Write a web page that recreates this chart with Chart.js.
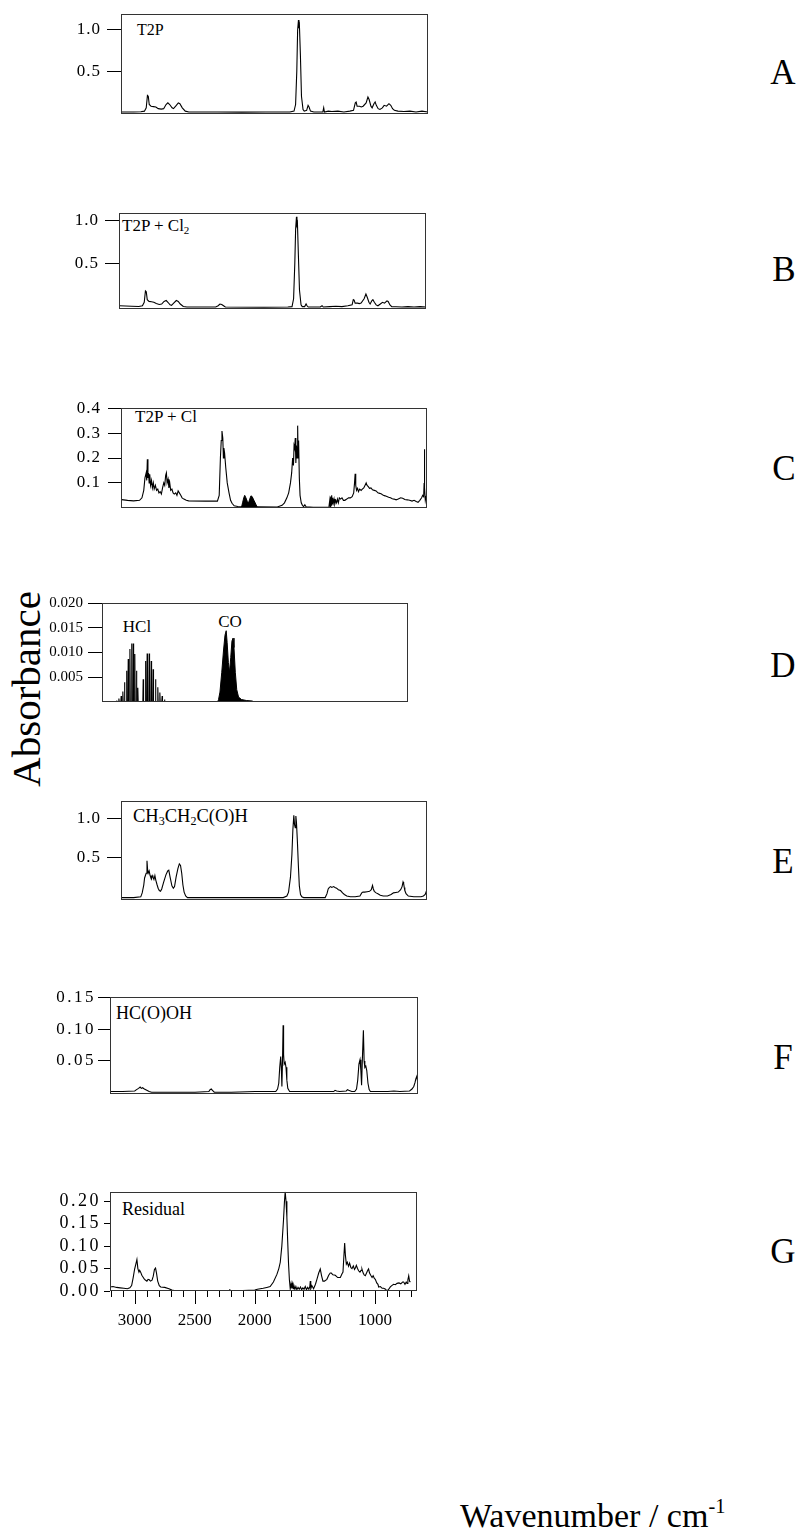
<!DOCTYPE html>
<html>
<head>
<meta charset="utf-8">
<script src="https://cdn.jsdelivr.net/npm/chart.js@4.4.1/dist/chart.umd.min.js"></script>
<style>
  body { margin: 0; background: #fff; width: 802px; height: 1539px; position: relative; overflow: hidden;
         font-family: "Liberation Serif", "Times New Roman", serif; color: #000; }
  canvas { position: absolute; }
  .t { position: absolute; line-height: 1; white-space: nowrap; }
  .t sub { font-size: 0.65em; vertical-align: -0.25em; line-height: 0; }
  .t sup { font-size: 0.6em; vertical-align: 0.7em; line-height: 0; }
  .lt { position: absolute; font-size: 35px; line-height: 1; transform: translate(-50%, -50%); }
</style>
</head>
<body>

<div class="t" style="left:137px;top:22px;font-size:16px">T2P</div>
<div class="t" style="left:122px;top:217px;font-size:17px">T2P + Cl<sub>2</sub></div>
<div class="t" style="left:135px;top:408px;font-size:17px">T2P + Cl</div>
<div class="t" style="left:137px;top:618px;font-size:17px;transform:translateX(-50%)">HCl</div>
<div class="t" style="left:230px;top:613px;font-size:17px;transform:translateX(-50%)">CO</div>
<div class="t" style="left:133px;top:807px;font-size:18.5px">CH<sub>3</sub>CH<sub>2</sub>C(O)H</div>
<div class="t" style="left:116px;top:1004px;font-size:18px">HC(O)OH</div>
<div class="t" style="left:122px;top:1200px;font-size:18px">Residual</div>

<div class="lt" style="left:783px;top:72px">A</div>
<div class="lt" style="left:784px;top:269px">B</div>
<div class="lt" style="left:784px;top:468px">C</div>
<div class="lt" style="left:783px;top:665px">D</div>
<div class="lt" style="left:783px;top:861px">E</div>
<div class="lt" style="left:783px;top:1057px">F</div>
<div class="lt" style="left:783px;top:1251px">G</div>

<div class="t" style="left:26px;top:689px;font-size:41px;transform:translate(-50%,-50%) rotate(-90deg)">Absorbance</div>
<div class="t" style="left:460px;top:1499px;font-size:34px">Wavenumber / cm<sup>-1</sup></div>

<script>
// spectra: [wavenumber cm-1, absorbance]
const specT2P = [[3200,0.01],[3100,0.01],[3040,0.012],[3010,0.02],[2995,0.06],[2985,0.21],[2978,0.2],[2970,0.1],[2955,0.08],[2935,0.075],[2915,0.07],[2895,0.05],[2870,0.045],[2850,0.05],[2830,0.1],[2815,0.12],[2800,0.1],[2780,0.06],[2768,0.05],[2750,0.08],[2728,0.12],[2715,0.11],[2695,0.06],[2670,0.02],[2640,0.01],[2400,0.01],[2200,0.008],[2000,0.01],[1800,0.01],[1765,0.02],[1752,0.1],[1742,0.5],[1735,1.0],[1728,1.12],[1724,1.02],[1720,1.05],[1712,0.7],[1703,0.2],[1690,0.04],[1680,0.02],[1660,0.03],[1648,0.09],[1640,0.07],[1628,0.02],[1600,0.01],[1525,0.01],[1518,0.06],[1512,0.01],[1480,0.02],[1450,0.015],[1400,0.02],[1350,0.01],[1300,0.02],[1270,0.03],[1255,0.12],[1248,0.13],[1240,0.08],[1220,0.08],[1205,0.07],[1190,0.08],[1165,0.12],[1150,0.19],[1140,0.16],[1125,0.08],[1115,0.06],[1100,0.11],[1090,0.13],[1080,0.09],[1065,0.05],[1050,0.04],[1030,0.06],[1015,0.09],[995,0.08],[975,0.11],[960,0.09],[945,0.05],[930,0.03],[900,0.02],[850,0.015],[800,0.02],[750,0.01],[700,0.02],[650,0.01]];

const specT2PCl2 = [[3200,0.02],[3100,0.015],[3040,0.012],[3010,0.02],[2995,0.06],[2985,0.19],[2978,0.18],[2970,0.09],[2955,0.07],[2935,0.065],[2915,0.06],[2895,0.045],[2870,0.035],[2850,0.04],[2830,0.07],[2812,0.08],[2798,0.06],[2780,0.03],[2768,0.025],[2750,0.05],[2728,0.08],[2712,0.07],[2695,0.04],[2670,0.012],[2640,0.005],[2400,0.005],[2380,0.02],[2365,0.04],[2350,0.035],[2335,0.02],[2320,0.005],[2000,0.003],[1800,0.005],[1765,0.01],[1752,0.1],[1742,0.5],[1735,0.9],[1728,1.04],[1724,0.95],[1720,0.97],[1712,0.6],[1703,0.2],[1690,0.03],[1680,0.01],[1660,0.01],[1648,0.04],[1640,0.02],[1630,0.005],[1530,0.005],[1515,0.02],[1505,0.005],[1450,0.01],[1400,0.015],[1350,0.01],[1300,0.02],[1265,0.03],[1255,0.09],[1248,0.085],[1240,0.05],[1220,0.05],[1205,0.045],[1190,0.05],[1165,0.1],[1150,0.155],[1140,0.12],[1125,0.06],[1115,0.04],[1100,0.08],[1092,0.09],[1080,0.06],[1065,0.03],[1050,0.02],[1030,0.04],[1012,0.06],[995,0.05],[975,0.075],[965,0.07],[950,0.03],[935,0.01],[900,0.008],[850,0.005],[800,0.01],[750,0.005],[700,0.01],[650,0.005]];

const specT2PCl = [[3200,0.033],[3150,0.03],[3100,0.028],[3050,0.03],[3030,0.04],[3015,0.07],[3005,0.12],[2995,0.14],[2990,0.11],[2985,0.195],[2980,0.12],[2975,0.14],[2970,0.1],[2965,0.135],[2958,0.09],[2950,0.11],[2943,0.08],[2935,0.1],[2928,0.075],[2918,0.09],[2908,0.07],[2898,0.075],[2888,0.06],[2878,0.065],[2868,0.055],[2858,0.08],[2848,0.1],[2840,0.09],[2832,0.13],[2826,0.14],[2820,0.1],[2812,0.115],[2805,0.08],[2798,0.1],[2790,0.07],[2780,0.075],[2770,0.06],[2760,0.055],[2748,0.06],[2738,0.05],[2728,0.068],[2718,0.06],[2706,0.05],[2695,0.04],[2680,0.035],[2660,0.03],[2640,0.028],[2500,0.027],[2400,0.027],[2385,0.05],[2375,0.2],[2368,0.27],[2362,0.308],[2355,0.28],[2350,0.2],[2346,0.24],[2340,0.22],[2330,0.16],[2318,0.1],[2303,0.06],[2290,0.03],[2278,0.018],[2260,0.008],[2230,0.005],[2205,0.004],[2070,0.004],[1900,0.003],[1860,0.01],[1840,0.02],[1820,0.04],[1805,0.06],[1790,0.1],[1780,0.14],[1772,0.2],[1765,0.17],[1760,0.25],[1755,0.24],[1750,0.28],[1745,0.18],[1740,0.25],[1735,0.2],[1730,0.33],[1726,0.2],[1722,0.27],[1716,0.12],[1710,0.05],[1700,0.02],[1690,0.01],[1680,0.005],[1670,0.012],[1660,0.004],[1600,0.002],[1480,0.002],[1470,0.0],[1462,0.03],[1458,0.005],[1454,0.045],[1450,0.01],[1446,0.05],[1442,0.015],[1438,0.04],[1432,0.02],[1426,0.035],[1420,0.015],[1412,0.03],[1405,0.02],[1398,0.035],[1390,0.02],[1382,0.04],[1372,0.035],[1360,0.04],[1348,0.03],[1336,0.03],[1320,0.035],[1305,0.04],[1290,0.04],[1275,0.045],[1262,0.06],[1255,0.1],[1250,0.137],[1245,0.09],[1238,0.07],[1230,0.078],[1222,0.065],[1212,0.075],[1200,0.07],[1190,0.075],[1178,0.08],[1168,0.09],[1158,0.1],[1150,0.09],[1140,0.085],[1130,0.078],[1118,0.08],[1105,0.072],[1090,0.07],[1075,0.068],[1060,0.06],[1045,0.058],[1030,0.055],[1015,0.05],[1000,0.048],[985,0.045],[970,0.042],[955,0.04],[940,0.036],[925,0.035],[908,0.032],[890,0.035],[870,0.04],[853,0.038],[835,0.033],[815,0.032],[795,0.03],[775,0.027],[758,0.03],[740,0.025],[725,0.022],[710,0.03],[695,0.04],[686,0.05],[678,0.045],[674,0.1],[672,0.235],[669,0.08],[664,0.03],[658,0.045],[650,0.05]];
const coBandC = [[2200,0],[2190,0.02],[2180,0.04],[2172,0.05],[2162,0.04],[2150,0.025],[2140,0.02],[2130,0.035],[2120,0.048],[2110,0.045],[2095,0.03],[2080,0.015],[2065,0]];

// HCl rotational lines (centre, height) and CO band envelope
const hclWave = [3083,3064,3045,3031,3017,3000,2986,2972,2958,2944,2931,2917,2906,2861,2842,2828,2811,2794,2778,2758,2739,2722,2703,2683];
const hclAbs  = [0.0003,0.0007,0.0012,0.0021,0.004,0.0063,0.0087,0.0107,0.0118,0.0118,0.0097,0.0063,0.0029,0.0046,0.0083,0.0098,0.0098,0.0083,0.0066,0.0046,0.003,0.0019,0.0012,0.0005];
const coBandD = [[2240,0],[2232,0.0005],[2220,0.002],[2205,0.006],[2190,0.0105],[2178,0.0135],[2168,0.0144],[2160,0.012],[2150,0.008],[2140,0.006],[2130,0.009],[2120,0.0123],[2111,0.0129],[2103,0.011],[2092,0.006],[2080,0.0025],[2065,0.001],[2040,0.0005],[2000,0.0003],[1950,0.0002],[1940,0]];

const specPropanal = [[3200,-0.01],[3100,-0.01],[3040,0.0],[3028,0.05],[3015,0.15],[3008,0.24],[2995,0.3],[2988,0.46],[2983,0.35],[2978,0.3],[2970,0.33],[2962,0.27],[2955,0.24],[2950,0.23],[2944,0.27],[2938,0.25],[2930,0.22],[2922,0.27],[2914,0.21],[2905,0.16],[2895,0.11],[2885,0.08],[2875,0.07],[2865,0.1],[2850,0.18],[2830,0.28],[2815,0.33],[2806,0.34],[2795,0.25],[2780,0.14],[2768,0.11],[2758,0.13],[2745,0.25],[2730,0.36],[2718,0.42],[2708,0.4],[2698,0.3],[2688,0.15],[2678,0.06],[2665,0.01],[2650,-0.01],[2400,-0.01],[2100,-0.01],[1850,-0.01],[1820,0.01],[1806,0.06],[1790,0.25],[1778,0.54],[1770,0.85],[1762,1.04],[1756,0.92],[1750,0.88],[1745,1.03],[1740,0.95],[1732,0.7],[1724,0.4],[1716,0.14],[1706,0.03],[1695,0.0],[1680,-0.01],[1500,-0.01],[1485,0.04],[1475,0.1],[1465,0.12],[1455,0.13],[1445,0.12],[1430,0.13],[1418,0.12],[1405,0.11],[1390,0.09],[1372,0.08],[1355,0.05],[1340,0.03],[1320,0.01],[1290,0.0],[1250,0.0],[1210,0.01],[1195,0.05],[1185,0.06],[1170,0.06],[1150,0.065],[1130,0.07],[1115,0.09],[1105,0.145],[1098,0.1],[1090,0.07],[1075,0.05],[1060,0.04],[1040,0.02],[1015,0.01],[980,0.01],[950,0.03],[930,0.05],[910,0.055],[890,0.06],[870,0.09],[858,0.13],[850,0.19],[845,0.17],[840,0.12],[835,0.08],[825,0.04],[806,0.01],[760,0.0],[700,0.0],[680,0.01],[665,0.03],[658,0.06],[650,0.04]];

const specFormic = [[3200,0.002],[3100,0.002],[3000,0.003],[2985,0.005],[2968,0.007],[2955,0.009],[2945,0.007],[2935,0.008],[2920,0.006],[2900,0.004],[2880,0.002],[2860,0.001],[2700,0.001],[2500,0.001],[2385,0.002],[2375,0.005],[2365,0.006],[2355,0.004],[2340,0.001],[2200,0.001],[2000,0.002],[1830,0.002],[1815,0.006],[1805,0.015],[1797,0.04],[1789,0.057],[1784,0.04],[1779,0.01],[1774,0.05],[1769,0.106],[1765,0.06],[1760,0.045],[1752,0.048],[1745,0.04],[1738,0.02],[1730,0.007],[1715,0.002],[1500,0.002],[1350,0.002],[1338,0.004],[1325,0.003],[1300,0.002],[1245,0.003],[1235,0.005],[1225,0.004],[1200,0.002],[1175,0.002],[1160,0.006],[1150,0.02],[1140,0.045],[1131,0.052],[1124,0.035],[1118,0.012],[1112,0.05],[1103,0.098],[1097,0.05],[1091,0.04],[1083,0.042],[1075,0.035],[1065,0.015],[1055,0.005],[1045,0.002],[900,0.002],[850,0.003],[800,0.002],[720,0.003],[700,0.006],[685,0.01],[675,0.016],[668,0.022],[660,0.026],[655,0.02],[650,0.024]];

const specResidual = [[3205,0.009],[3180,0.01],[3150,0.008],[3120,0.007],[3090,0.006],[3060,0.005],[3040,0.007],[3025,0.012],[3012,0.03],[3000,0.049],[2990,0.06],[2981,0.07],[2973,0.05],[2964,0.042],[2958,0.046],[2950,0.042],[2940,0.035],[2928,0.03],[2918,0.026],[2908,0.024],[2898,0.022],[2888,0.026],[2878,0.025],[2868,0.022],[2855,0.024],[2845,0.033],[2835,0.048],[2826,0.051],[2818,0.04],[2808,0.022],[2795,0.012],[2783,0.009],[2750,0.008],[2714,0.005],[2690,0.002],[2672,0.001],[2500,0.0],[2350,0.001],[2250,0.0],[2215,0.001],[2208,0.003],[2200,0.001],[2100,0.001],[2000,0.002],[1978,0.004],[1930,0.006],[1900,0.008],[1872,0.01],[1845,0.02],[1816,0.037],[1800,0.05],[1788,0.064],[1775,0.1],[1761,0.158],[1753,0.2],[1747,0.221],[1740,0.2],[1733,0.165],[1726,0.11],[1719,0.06],[1712,0.025],[1705,0.005],[1698,0.017],[1692,0.006],[1686,0.016],[1680,0.005],[1674,0.012],[1666,0.004],[1658,0.01],[1650,0.003],[1640,0.008],[1630,0.004],[1620,0.009],[1610,0.003],[1600,0.007],[1590,0.004],[1580,0.01],[1570,0.003],[1560,0.008],[1550,0.004],[1542,0.01],[1538,0.022],[1534,0.005],[1525,0.012],[1511,0.005],[1495,0.015],[1483,0.026],[1468,0.04],[1455,0.049],[1445,0.035],[1433,0.022],[1420,0.022],[1400,0.026],[1385,0.035],[1372,0.04],[1363,0.04],[1350,0.036],[1330,0.035],[1310,0.03],[1288,0.03],[1275,0.038],[1266,0.042],[1258,0.08],[1252,0.107],[1246,0.08],[1238,0.06],[1230,0.064],[1220,0.055],[1211,0.062],[1200,0.052],[1191,0.05],[1180,0.056],[1170,0.048],[1162,0.052],[1155,0.057],[1145,0.05],[1136,0.045],[1125,0.042],[1115,0.046],[1108,0.049],[1098,0.04],[1090,0.036],[1080,0.034],[1070,0.04],[1060,0.046],[1053,0.049],[1045,0.04],[1035,0.035],[1024,0.03],[1015,0.034],[1005,0.028],[997,0.026],[985,0.018],[975,0.015],[969,0.009],[955,0.01],[940,0.006],[927,0.006],[912,0.004],[899,0.0],[885,0.004],[872,0.009],[860,0.012],[845,0.015],[830,0.014],[816,0.017],[800,0.018],[785,0.016],[770,0.02],[761,0.02],[750,0.015],[740,0.02],[733,0.017],[726,0.025],[719,0.034],[712,0.022],[705,0.02]];

// tick labels
const yTicksA = [0.5, 1.0];
const yTicksB = [0.5, 1.0];
const yTicksC = [0.1, 0.2, 0.3, 0.4];
const yTicksD = [0.005, 0.010, 0.015, 0.020];
const yTicksE = [0.5, 1.0];
const yTicksF = [0.05, 0.10, 0.15];
const yTicksG = [0.00, 0.05, 0.10, 0.15, 0.20];
const xTicksG = [3000, 2500, 2000, 1500, 1000];

const pts = arr => arr.map(p => ({ x: p[0], y: p[1] }));

const hclSticks = [];
hclWave.forEach((w, i) => {
  hclSticks.push({ x: w + 3, y: 0 }, { x: w, y: hclAbs[i] }, { x: w - 3, y: 0 });
});

const line = d => ({ data: d, borderColor: '#000', borderWidth: 1.1, pointRadius: 0, tension: 0, fill: false });
const band = d => ({ data: d, borderColor: '#000', borderWidth: 1, pointRadius: 0, tension: 0, fill: 'origin', backgroundColor: '#000' });

// wider glyph spacing for the y tick numbers, like the original figure;
// the wavenumber labels (drawn after the datasets) get normal spacing
const spacingPlugin = {
  id: 'spacing',
  beforeDraw(chart, args, opts) { chart.ctx.letterSpacing = (opts.px || 0) + 'px'; },
  afterDatasetsDraw(chart) { chart.ctx.letterSpacing = '0px'; }
};

const boxPlugin = {
  id: 'box',
  afterDraw(chart) {
    const a = chart.chartArea, ctx = chart.ctx;
    ctx.save();
    ctx.strokeStyle = '#333';
    ctx.lineWidth = 1;
    ctx.strokeRect(Math.round(a.left) + 0.5, Math.round(a.top) + 0.5,
                   Math.round(a.right - a.left) - 1, Math.round(a.bottom - a.top) - 1);
    // wavenumber tick marks (bottom panel only)
    if (chart.options.scales.x.display) {
      const xs = chart.scales.x;
      ctx.strokeStyle = '#000';
      for (let w = 700; w <= 3200; w += 100) {
        const px = Math.round(xs.getPixelForValue(w)) + 0.5;
        const len = w % 500 === 0 ? 13 : 6;
        ctx.beginPath();
        ctx.moveTo(px, a.bottom);
        ctx.lineTo(px, a.bottom + len);
        ctx.stroke();
      }
    }
    ctx.restore();
  }
};

function panel(box, yr, yTicks, dec, tick, sets, withX) {
  const padL = 80, padT = 12, padR = 8, padB = withX ? 40 : 2;
  const w = box[2] - box[0], h = box[3] - box[1];
  const cw = w + padL + padR, ch = h + padT + padB;
  const cv = document.createElement('canvas');
  cv.width = cw;
  cv.height = ch;
  cv.style.width = cw + 'px';
  cv.style.height = ch + 'px';
  cv.style.left = (box[0] - padL) + 'px';
  cv.style.top = (box[1] - padT) + 'px';
  document.body.appendChild(cv);
  const chart = new Chart(cv, {
    type: 'line',
    data: { datasets: sets },
    options: {
      responsive: false,
      maintainAspectRatio: false,
      animation: false,
      layout: { padding: { top: padT, right: padR, bottom: withX ? 0 : padB, left: 0 } },
      plugins: { legend: { display: false }, tooltip: { enabled: false }, spacing: { px: tick.sp } },
      scales: {
        x: {
          type: 'linear', reverse: true, min: 650, max: 3205, display: withX,
          afterFit: s => { if (withX) s.height = 40; },
          afterBuildTicks: s => { s.ticks = xTicksG.map(v => ({ value: v })); },
          ticks: { color: '#000', font: { family: 'Liberation Serif', size: 17 }, padding: 6, maxRotation: 0, autoSkip: false,
                   z: 1, callback: v => String(v) },
          grid: { display: false, drawTicks: true, tickLength: 13 },
          border: { display: false }
        },
        y: {
          min: yr[0], max: yr[1],
          afterFit: s => { s.width = padL; },
          afterBuildTicks: s => { s.ticks = yTicks.map(v => ({ value: v })); },
          ticks: { color: '#000', font: { family: 'Liberation Serif', size: tick.size }, padding: tick.pad, autoSkip: false,
                   callback: v => v.toFixed(dec) },
          grid: { drawOnChartArea: false, drawTicks: true, tickLength: tick.len, color: '#000', tickColor: '#000' },
          border: { display: false }
        }
      }
    },
    plugins: [spacingPlugin, boxPlugin]
  });
  // keep the plot frame exactly on the wanted box
  const a = chart.chartArea;
  const dTop = Math.round(a.top - padT), dBot = Math.round((ch - padB) - a.bottom);
  if (dTop !== 0 || dBot !== 0) {
    cv.style.top = (box[1] - padT - dTop) + 'px';
    chart.resize(cw, ch + dTop + dBot);
  }
}

panel([121, 14, 428, 114], [-0.012, 1.19], yTicksA, 1, { size: 17, sp: 1, len: 14, pad: 6 }, [line(pts(specT2P))], false);
panel([119, 213, 426, 309], [-0.015, 1.082], yTicksB, 1, { size: 17, sp: 1, len: 14, pad: 6 }, [line(pts(specT2PCl2))], false);
panel([121, 408, 427, 508], [0, 0.4], yTicksC, 1, { size: 17, sp: 1, len: 13, pad: 7 }, [line(pts(specT2PCl)), band(pts(coBandC))], false);
panel([102, 603, 408, 702], [0, 0.020], yTicksD, 3, { size: 15, sp: 0, len: 14, pad: 5 }, [line(hclSticks), band(pts(coBandD))], false);
panel([121, 801, 427, 900], [-0.038, 1.218], yTicksE, 1, { size: 17, sp: 1, len: 14, pad: 6 }, [line(pts(specPropanal))], false);
panel([110, 997, 418, 1094], [-0.0015, 0.15], yTicksF, 2, { size: 17, sp: 2.5, len: 12, pad: 2 }, [line(pts(specFormic))], false);
panel([110, 1192, 417, 1291], [0, 0.221], yTicksG, 2, { size: 18, sp: 2.5, len: 6, pad: 3 }, [line(pts(specResidual))], true);
</script>
</body>
</html>
